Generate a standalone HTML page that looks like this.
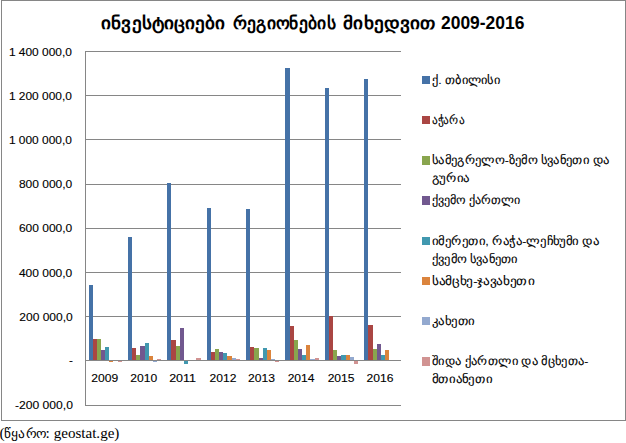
<!DOCTYPE html>
<html lang="ka"><head><meta charset="utf-8"><title>ინვესტიციები რეგიონების მიხედვით 2009-2016</title>
<style>
html,body{margin:0;padding:0;background:#fff;}
body{width:626px;height:443px;overflow:hidden;font-family:"Liberation Sans",sans-serif;}
svg{display:block;}
text{font-family:"Liberation Sans",sans-serif;fill:#000;}
.ax{font-size:11.7px;stroke:#000;stroke-width:0.12px;}
.lg{font-size:11.8px;stroke:#000;stroke-width:0.1px;}
.ti{font-size:16.2px;font-weight:bold;}
.src{font-family:"Liberation Serif",serif;font-size:15.5px;}
</style></head><body>
<svg width="626" height="443" viewBox="0 0 626 443">
<rect x="0" y="0" width="626" height="443" fill="#fff"/>
<rect x="1.5" y="0.5" width="624" height="420" fill="#fff" stroke="#868686" stroke-width="1"/>
<g stroke="#868686" stroke-width="1" shape-rendering="crispEdges">
<line x1="85" y1="51.5" x2="401" y2="51.5"/>
<line x1="85" y1="95.5" x2="401" y2="95.5"/>
<line x1="85" y1="139.5" x2="401" y2="139.5"/>
<line x1="85" y1="184.5" x2="401" y2="184.5"/>
<line x1="85" y1="228.5" x2="401" y2="228.5"/>
<line x1="85" y1="272.5" x2="401" y2="272.5"/>
<line x1="85" y1="316.5" x2="401" y2="316.5"/>
<line x1="85" y1="405.5" x2="401" y2="405.5"/>
</g>
<g shape-rendering="crispEdges">
<rect x="89" y="285" width="4" height="75" fill="#4572A7"/>
<rect x="93" y="339" width="4" height="21" fill="#AA4643"/>
<rect x="97" y="339" width="4" height="21" fill="#89A54E"/>
<rect x="101" y="350" width="4" height="10" fill="#71588F"/>
<rect x="105" y="347" width="4" height="13" fill="#4198AF"/>
<rect x="109" y="361" width="4" height="1" fill="#DB843D"/>
<rect x="118" y="361" width="4" height="1" fill="#D19392"/>
<rect x="128" y="237" width="4" height="123" fill="#4572A7"/>
<rect x="132" y="348" width="4" height="12" fill="#AA4643"/>
<rect x="136" y="355" width="4" height="5" fill="#89A54E"/>
<rect x="140" y="346" width="5" height="14" fill="#71588F"/>
<rect x="145" y="343" width="4" height="17" fill="#4198AF"/>
<rect x="149" y="356" width="4" height="4" fill="#DB843D"/>
<rect x="153" y="361" width="4" height="1" fill="#93A9CF"/>
<rect x="157" y="359" width="4" height="1" fill="#D19392"/>
<rect x="167" y="183" width="4" height="177" fill="#4572A7"/>
<rect x="171" y="340" width="5" height="20" fill="#AA4643"/>
<rect x="176" y="346" width="4" height="14" fill="#89A54E"/>
<rect x="180" y="328" width="4" height="32" fill="#71588F"/>
<rect x="184" y="361" width="4" height="3" fill="#4198AF"/>
<rect x="196" y="358" width="5" height="2" fill="#D19392"/>
<rect x="207" y="208" width="4" height="152" fill="#4572A7"/>
<rect x="211" y="352" width="4" height="8" fill="#AA4643"/>
<rect x="215" y="349" width="4" height="11" fill="#89A54E"/>
<rect x="219" y="352" width="4" height="8" fill="#71588F"/>
<rect x="223" y="353" width="4" height="7" fill="#4198AF"/>
<rect x="227" y="356" width="5" height="4" fill="#DB843D"/>
<rect x="232" y="358" width="4" height="2" fill="#93A9CF"/>
<rect x="236" y="359" width="4" height="1" fill="#D19392"/>
<rect x="246" y="209" width="4" height="151" fill="#4572A7"/>
<rect x="250" y="347" width="4" height="13" fill="#AA4643"/>
<rect x="254" y="348" width="5" height="12" fill="#89A54E"/>
<rect x="259" y="358" width="4" height="2" fill="#71588F"/>
<rect x="263" y="348" width="4" height="12" fill="#4198AF"/>
<rect x="267" y="350" width="4" height="10" fill="#DB843D"/>
<rect x="271" y="359" width="4" height="1" fill="#93A9CF"/>
<rect x="275" y="361" width="4" height="1" fill="#D19392"/>
<rect x="285" y="68" width="5" height="292" fill="#4572A7"/>
<rect x="290" y="326" width="4" height="34" fill="#AA4643"/>
<rect x="294" y="340" width="4" height="20" fill="#89A54E"/>
<rect x="298" y="349" width="4" height="11" fill="#71588F"/>
<rect x="302" y="355" width="4" height="5" fill="#4198AF"/>
<rect x="306" y="345" width="4" height="15" fill="#DB843D"/>
<rect x="310" y="359" width="5" height="1" fill="#93A9CF"/>
<rect x="315" y="358" width="4" height="2" fill="#D19392"/>
<rect x="325" y="88" width="4" height="272" fill="#4572A7"/>
<rect x="329" y="316" width="4" height="44" fill="#AA4643"/>
<rect x="333" y="350" width="4" height="10" fill="#89A54E"/>
<rect x="337" y="356" width="4" height="4" fill="#71588F"/>
<rect x="341" y="355" width="5" height="5" fill="#4198AF"/>
<rect x="346" y="355" width="4" height="5" fill="#DB843D"/>
<rect x="350" y="357" width="4" height="3" fill="#93A9CF"/>
<rect x="354" y="361" width="4" height="3" fill="#D19392"/>
<rect x="364" y="79" width="4" height="281" fill="#4572A7"/>
<rect x="368" y="325" width="5" height="35" fill="#AA4643"/>
<rect x="373" y="349" width="4" height="11" fill="#89A54E"/>
<rect x="377" y="344" width="4" height="16" fill="#71588F"/>
<rect x="381" y="355" width="4" height="5" fill="#4198AF"/>
<rect x="385" y="350" width="4" height="10" fill="#DB843D"/>
</g>
<g stroke="#868686" stroke-width="1" shape-rendering="crispEdges">
<line x1="85" y1="360.5" x2="401" y2="360.5"/>
<line x1="85.5" y1="51" x2="85.5" y2="406"/>
</g>
<text class="ti" y="29.2"><tspan x="101.3" font-size="17.4" textLength="124.2" lengthAdjust="spacingAndGlyphs">ინვესტიციები</tspan> <tspan x="232.8" font-size="17.4" textLength="103" lengthAdjust="spacingAndGlyphs">რეგიონების</tspan> <tspan x="343.3" font-size="17.4" textLength="92.2" lengthAdjust="spacingAndGlyphs">მიხედვით</tspan> <tspan x="441.0" font-size="17.5" textLength="83.4" lengthAdjust="spacingAndGlyphs">2009-2016</tspan></text>
<text class="ax" x="71.9" y="56.0" text-anchor="end" textLength="63.0" lengthAdjust="spacingAndGlyphs">1 400 000,0</text>
<text class="ax" x="71.9" y="100.1" text-anchor="end" textLength="63.0" lengthAdjust="spacingAndGlyphs">1 200 000,0</text>
<text class="ax" x="71.9" y="144.2" text-anchor="end" textLength="63.0" lengthAdjust="spacingAndGlyphs">1 000 000,0</text>
<text class="ax" x="72.3" y="188.3" text-anchor="end" textLength="53.4" lengthAdjust="spacingAndGlyphs">800 000,0</text>
<text class="ax" x="72.3" y="232.4" text-anchor="end" textLength="53.4" lengthAdjust="spacingAndGlyphs">600 000,0</text>
<text class="ax" x="72.3" y="276.6" text-anchor="end" textLength="53.4" lengthAdjust="spacingAndGlyphs">400 000,0</text>
<text class="ax" x="72.7" y="320.8" text-anchor="end" textLength="53.4" lengthAdjust="spacingAndGlyphs">200 000,0</text>
<text class="ax" x="72.9" y="409.0" text-anchor="end" textLength="57.9" lengthAdjust="spacingAndGlyphs">-200 000,0</text>
<text class="ax" x="73.0" y="363.9" text-anchor="end">-</text>
<text class="ax" x="104.8" y="382.1" text-anchor="middle" textLength="26.9" lengthAdjust="spacingAndGlyphs">2009</text>
<text class="ax" x="143.7" y="382.1" text-anchor="middle" textLength="26.9" lengthAdjust="spacingAndGlyphs">2010</text>
<text class="ax" x="182.6" y="382.1" text-anchor="middle" textLength="26.9" lengthAdjust="spacingAndGlyphs">2011</text>
<text class="ax" x="223.0" y="382.1" text-anchor="middle" textLength="26.9" lengthAdjust="spacingAndGlyphs">2012</text>
<text class="ax" x="261.5" y="382.1" text-anchor="middle" textLength="26.9" lengthAdjust="spacingAndGlyphs">2013</text>
<text class="ax" x="301.1" y="382.1" text-anchor="middle" textLength="26.9" lengthAdjust="spacingAndGlyphs">2014</text>
<text class="ax" x="341.1" y="382.1" text-anchor="middle" textLength="26.9" lengthAdjust="spacingAndGlyphs">2015</text>
<text class="ax" x="380.0" y="382.1" text-anchor="middle" textLength="26.9" lengthAdjust="spacingAndGlyphs">2016</text>
<rect x="422" y="76" width="8" height="8" fill="#4572A7" shape-rendering="crispEdges"/>
<text class="lg" x="432" y="84.0" textLength="67.8" lengthAdjust="spacingAndGlyphs">ქ. თბილისი</text>
<rect x="422" y="116" width="8" height="8" fill="#AA4643" shape-rendering="crispEdges"/>
<text class="lg" x="432" y="124.0" textLength="32.2" lengthAdjust="spacingAndGlyphs">აჭარა</text>
<rect x="422" y="156" width="8" height="9" fill="#89A54E" shape-rendering="crispEdges"/>
<text class="lg" x="432" y="164.0" textLength="177.4" lengthAdjust="spacingAndGlyphs">სამეგრელო-ზემო სვანეთი და</text>
<text class="lg" x="432" y="181.6" textLength="37.3" lengthAdjust="spacingAndGlyphs">გურია</text>
<rect x="422" y="196" width="8" height="9" fill="#71588F" shape-rendering="crispEdges"/>
<text class="lg" x="432" y="204.0" textLength="88.4" lengthAdjust="spacingAndGlyphs">ქვემო ქართლი</text>
<rect x="422" y="237" width="8" height="8" fill="#4198AF" shape-rendering="crispEdges"/>
<text class="lg" x="432" y="245.0" textLength="167.1" lengthAdjust="spacingAndGlyphs">იმერეთი, რაჭა-ლეჩხუმი და</text>
<text class="lg" x="432" y="262.6" textLength="85.7" lengthAdjust="spacingAndGlyphs">ქვემო სვანეთი</text>
<rect x="422" y="277" width="8" height="8" fill="#DB843D" shape-rendering="crispEdges"/>
<text class="lg" x="432" y="285.0" textLength="102.2" lengthAdjust="spacingAndGlyphs">სამცხე-ჯავახეთი</text>
<rect x="422" y="317" width="8" height="8" fill="#93A9CF" shape-rendering="crispEdges"/>
<text class="lg" x="432" y="325.0" textLength="42.9" lengthAdjust="spacingAndGlyphs">კახეთი</text>
<rect x="422" y="357" width="8" height="9" fill="#D19392" shape-rendering="crispEdges"/>
<text class="lg" x="432" y="365.0" textLength="156.4" lengthAdjust="spacingAndGlyphs">შიდა ქართლი და მცხეთა-</text>
<text class="lg" x="432" y="382.6" textLength="60.1" lengthAdjust="spacingAndGlyphs">მთიანეთი</text>
<text class="src" y="438"><tspan x="-0.4">(</tspan><tspan x="3.9" font-size="13.2" textLength="42.2" lengthAdjust="spacingAndGlyphs">წყარო</tspan><tspan x="45.6">:</tspan> <tspan x="53.7" textLength="65.7" lengthAdjust="spacingAndGlyphs">geostat.ge)</tspan></text>
</svg>
</body></html>
